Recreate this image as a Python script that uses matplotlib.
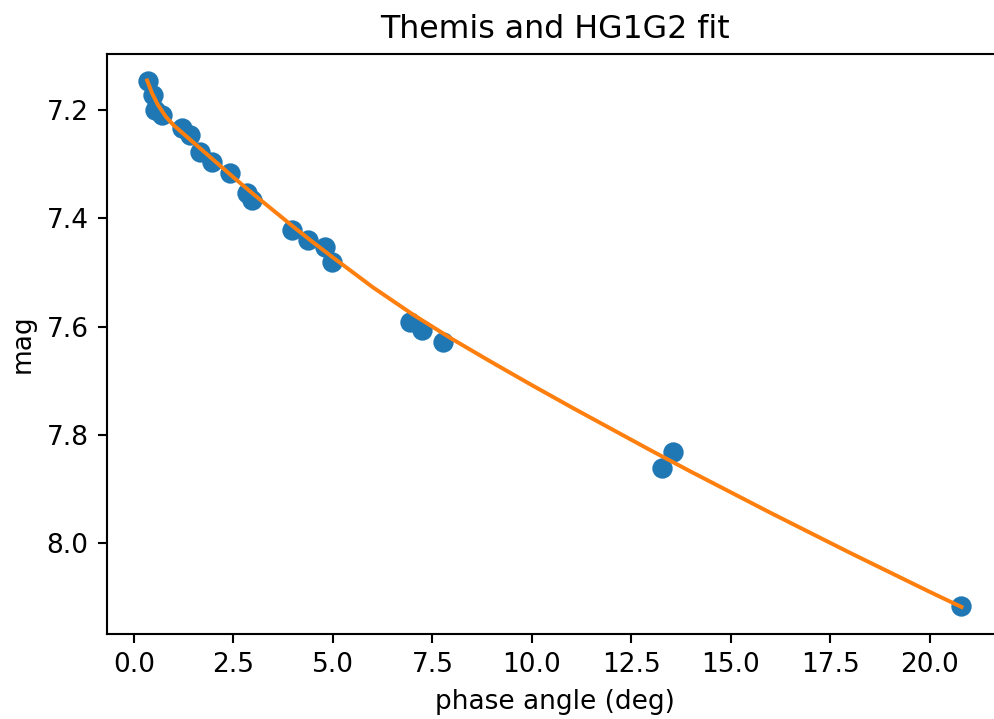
import matplotlib.pyplot as plt

# observed points (phase angle in deg, reduced magnitude)
phase = [0.34, 0.48, 0.53, 0.70, 1.20, 1.41, 1.66, 1.95, 2.41, 2.83, 2.96,
         3.96, 4.37, 4.80, 4.97, 6.93, 7.23, 7.77, 13.28, 13.55, 20.8]
mag = [7.145, 7.172, 7.200, 7.209, 7.233, 7.246, 7.277, 7.295, 7.316, 7.353, 7.366,
       7.422, 7.440, 7.452, 7.480, 7.591, 7.606, 7.628, 7.861, 7.831, 8.117]

# HG1G2 fit curve
fit_phase = [0.33, 0.45, 0.6, 0.8, 1.0, 1.5, 2.0, 2.5, 3.0, 3.5, 4.0, 4.5, 5.0,
             6.0, 7.0, 8.0, 9.0, 10.0, 11.0, 12.0, 13.0, 14.0, 15.0, 16.0,
             17.0, 18.0, 19.0, 20.0, 20.8]
fit_mag = [7.145, 7.168, 7.19, 7.212, 7.228, 7.26, 7.292, 7.324, 7.355, 7.385, 7.415, 7.444, 7.472,
           7.527, 7.577, 7.623, 7.666, 7.708, 7.749, 7.789, 7.829, 7.868, 7.906, 7.944,
           7.981, 8.018, 8.054, 8.090, 8.118]

fig = plt.figure(figsize=(994 / 190, 719 / 190), dpi=190)
ax = fig.add_axes([107 / 994, 85 / 719, 895 / 994, 580 / 719])

ax.scatter(phase, mag, s=45, color="#1f77b4", zorder=2)
ax.plot(fit_phase, fit_mag, color="#ff7f0e", lw=1.5, zorder=3)

ax.set_xlim(-0.68, 21.82)
ax.set_ylim(8.168, 7.096)
ax.set_xticks([0.0, 2.5, 5.0, 7.5, 10.0, 12.5, 15.0, 17.5, 20.0])
ax.set_yticks([7.2, 7.4, 7.6, 7.8, 8.0])
ax.set_xlabel("phase angle (deg)")
ax.set_ylabel("mag")
ax.set_title("Themis and HG1G2 fit")
# the reference picture is cropped just before the right spine
ax.spines["right"].set_visible(False)

fig.savefig("out.png", dpi=190)
